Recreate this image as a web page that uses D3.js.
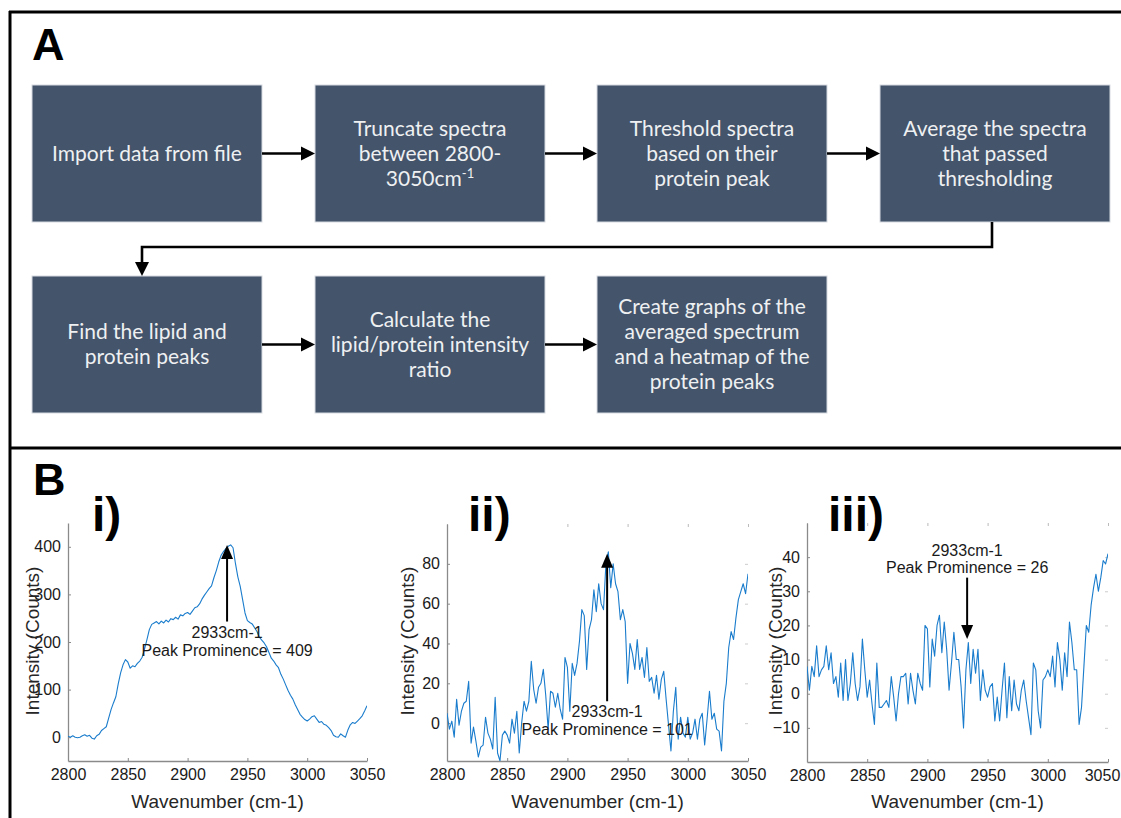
<!DOCTYPE html>
<html>
<head>
<meta charset="utf-8">
<script src="https://cdn.jsdelivr.net/npm/d3@7"></script>
<style>
body { margin: 0; background: #fff; }
svg { display: block; }
</style>
</head>
<body>
<svg id="fig" width="1121" height="818"></svg>
<script>
// ---- panel A: processing steps (text of each box, "^" marks a superscript)
var steps = [
  ["Import data from file"],
  ["Truncate spectra", "between 2800-", "3050cm^-1"],
  ["Threshold spectra", "based on their", "protein peak"],
  ["Average the spectra", "that passed", "thresholding"],
  ["Find the lipid and", "protein peaks"],
  ["Calculate the", "lipid/protein intensity", "ratio"],
  ["Create graphs of the", "averaged spectrum", "and a heatmap of the", "protein peaks"]
];

// ---- panel B: spectra, every 2 cm-1
var wavenumbers = [
  2800,2802,2804,2806,2808,2810,2812,2814,2816,2818,
  2820,2822,2824,2826,2828,2830,2832,2834,2836,2838,
  2840,2842,2844,2846,2848,2850,2852,2854,2856,2858,
  2860,2862,2864,2866,2868,2870,2872,2874,2876,2878,
  2880,2882,2884,2886,2888,2890,2892,2894,2896,2898,
  2900,2902,2904,2906,2908,2910,2912,2914,2916,2918,
  2920,2922,2924,2926,2928,2930,2932,2934,2936,2938,
  2940,2942,2944,2946,2948,2950,2952,2954,2956,2958,
  2960,2962,2964,2966,2968,2970,2972,2974,2976,2978,
  2980,2982,2984,2986,2988,2990,2992,2994,2996,2998,
  3000,3002,3004,3006,3008,3010,3012,3014,3016,3018,
  3020,3022,3024,3026,3028,3030,3032,3034,3036,3038,
  3040,3042,3044,3046,3048,3050
];

var spectrumI = [
  2,0,3,0,-1,0,3,5,2,4,
  -2,-4,3,6,14,18,22,40,58,72,
  85,112,135,152,163,158,145,150,148,155,
  160,168,185,205,226,237,240,243,238,244,
  240,246,242,249,247,252,248,257,255,260,
  262,258,265,272,274,280,290,298,305,312,
  318,335,350,368,382,390,396,401,404,398,
  365,337,317,289,261,245,241,238,230,222,
  210,204,198,190,178,166,160,152,146,132,
  122,110,98,88,80,68,58,48,42,37,
  34,38,43,45,38,31,33,27,25,20,
  14,4,1,0,7,3,0,15,26,31,
  29,34,39,45,55,66
];

var spectrumII = [
  5,-3,1,-7,12,-1,6,10,11,21,
  -10,-2,-9,-17,-12,-11,3,-5,-8,-13,
  13,-15,-19,-6,-4,-6,-10,2,-5,6,
  -15,0,11,6,11,31,17,10,18,20,
  27,14,-3,16,15,8,15,7,2,33,
  28,6,30,24,30,41,57,54,27,47,
  52,67,56,70,60,57,80,86,68,80,
  70,66,52,57,51,20,40,35,27,42,
  27,33,23,38,21,23,15,24,12,22,
  26,12,-1,-14,6,18,-8,3,-5,-7,
  3,-8,-5,2,-8,2,5,-11,2,16,
  2,5,-3,-4,-14,11,20,38,46,42,
  53,62,66,70,65,75
];

var spectrumIII = [
  8,1,8,5,14,5,7,8,14,7,
  12,3,5,-1,9,-2,10,-2,3,12,
  3,-2,2,16,7,-1,4,-3,-9,9,
  -4,-4,-3,-2,-4,5,-1,-8,0,5,
  5,6,-3,6,1,-3,6,3,1,20,
  19,2,16,11,20,23,12,21,13,1,
  9,18,10,10,2,-10,7,15,3,13,
  6,13,-2,7,1,-1,2,3,-8,-1,
  -8,1,9,-7,5,-5,4,-3,-5,1,
  4,-2,-7,-12,9,7,-5,-10,4,5,
  7,5,11,2,15,10,1,12,5,21,
  15,7,7,-9,-4,8,20,18,26,31,
  35,30,34,39,38,41
];

var spectra = [spectrumI, spectrumII, spectrumIII];
var panelNames = ["i)", "ii)", "iii)"];
var xDomain = [2800, 3050];
var xTickValues = [2800, 2850, 2900, 2950, 3000, 3050];
var yDomains = [[-50, 450], [-19, 100], [-20, 50]];
var yTickValues = [[0, 100, 200, 300, 400], [0, 20, 40, 60, 80], [-10, 0, 10, 20, 30, 40]];
var peakWavenumber = 2933;
var peakTips = [404, 85, 16];      // where the arrow points
var peakTails = [243, 11, 34];     // where the arrow starts
var prominences = [409, 101, 26];

var svg = d3.select("#fig");
var BOXFONT = "Lato, 'Open Sans', sans-serif";
var AXFONT = "'Liberation Sans', Arial, Helvetica, sans-serif";

// ---------- frame ----------
svg.append("line").attr("x1", 9).attr("x2", 1121).attr("y1", 12).attr("y2", 12)
  .attr("stroke", "#000").attr("stroke-width", 3);
svg.append("line").attr("x1", 10).attr("x2", 10).attr("y1", 11).attr("y2", 818)
  .attr("stroke", "#000").attr("stroke-width", 3);
svg.append("line").attr("x1", 9).attr("x2", 1121).attr("y1", 448).attr("y2", 448)
  .attr("stroke", "#000").attr("stroke-width", 3);

svg.append("text").attr("x", 32).attr("y", 60).text("A")
  .style("font-family", AXFONT).style("font-weight", "bold").style("font-size", "45px");
svg.append("text").attr("x", 33).attr("y", 495).text("B")
  .style("font-family", AXFONT).style("font-weight", "bold").style("font-size", "45px");

// ---------- panel A flowchart ----------
var colX = [32, 315, 597, 880], boxW = 230, boxH = 137, rowY = [85, 276];
var boxes = steps.map(function(lines, i) {
  var row = i < 4 ? 0 : 1, col = i < 4 ? i : i - 4;
  return {lines: lines, x: colX[col], y: rowY[row]};
});

function arrowHead(x, y, dir) {
  // dir: "right" or "down", tip at (x, y)
  var p = dir === "right"
    ? [[x, y], [x - 14, y - 7], [x - 14, y + 7]]
    : [[x, y], [x - 7, y - 14], [x + 7, y - 14]];
  svg.append("path").attr("d", "M" + p.join("L") + "Z").attr("fill", "#000");
}

svg.append("g").selectAll("rect").data(boxes).enter().append("rect")
  .attr("x", function(d) { return d.x; })
  .attr("y", function(d) { return d.y; })
  .attr("width", boxW).attr("height", boxH)
  .attr("fill", "#44546a")
  .attr("stroke", "#d5dae0").attr("stroke-width", 1);

boxes.forEach(function(d) {
  var lh = 25, n = d.lines.length;
  var cy = d.y + boxH / 2;
  d.lines.forEach(function(line, j) {
    var y = cy + (j - (n - 1) / 2) * lh + 7;
    var parts = line.split("^");
    var ln = svg.append("text").attr("x", d.x + boxW / 2).attr("y", y)
      .attr("text-anchor", "middle")
      .style("font-family", BOXFONT).style("font-size", "21px")
      .attr("fill", "#eef0f2");
    ln.append("tspan").text(parts[0]);
    if (parts[1]) ln.append("tspan").attr("dy", -8).style("font-size", "13px").text(parts[1]);
  });
});

// horizontal arrows inside each row
[[0, 1], [1, 2], [2, 3], [4, 5], [5, 6]].forEach(function(pr) {
  var a = boxes[pr[0]], b = boxes[pr[1]];
  var y = a.y + boxH / 2;
  svg.append("line").attr("x1", a.x + boxW).attr("x2", b.x - 10).attr("y1", y).attr("y2", y)
    .attr("stroke", "#000").attr("stroke-width", 2.6);
  arrowHead(b.x, y, "right");
});

// connector from step 4 down to step 5
var c4 = boxes[3], c5 = boxes[4];
var cx4 = 992, cx5 = 142, midY = 247;
svg.append("path")
  .attr("d", "M" + cx4 + "," + (c4.y + boxH) + "V" + midY + "H" + cx5 + "V" + (c5.y - 10))
  .attr("fill", "none").attr("stroke", "#000").attr("stroke-width", 2.6);
arrowHead(cx5, c5.y, "down");

// ---------- panel B spectra ----------
var plots = [
  {left: 68, right: 367, top: 523, bottom: 761, ylab: 32, numX: 92, faint: false},
  {left: 447, right: 748, top: 524, bottom: 761, ylab: 407, numX: 468, faint: true},
  {left: 807, right: 1108, top: 523, bottom: 762, ylab: 775, numX: 828, faint: true}
];

plots.forEach(function(p, k) {
  var x = d3.scaleLinear().domain(xDomain).range([p.left, p.right]);
  var y = d3.scaleLinear().domain(yDomains[k]).range([p.bottom, p.top]);
  var data = wavenumbers.map(function(w, i) { return {w: w, v: spectra[k][i]}; });

  var clipId = "clip" + k;
  svg.append("clipPath").attr("id", clipId).append("rect")
    .attr("x", p.left).attr("y", p.top).attr("width", p.right - p.left).attr("height", p.bottom - p.top);

  // faint box ticks on top/right
  if (p.faint) {
    svg.append("g").attr("transform", "translate(0," + p.top + ")")
      .call(d3.axisTop(x).tickValues(xTickValues).tickSize(-3).tickFormat(""))
      .call(function(s) { s.select(".domain").remove(); s.selectAll("line").attr("stroke", "#bbb"); });
    svg.append("g").attr("transform", "translate(" + p.right + ",0)")
      .call(d3.axisRight(y).tickValues(yTickValues[k]).tickSize(-3).tickFormat(""))
      .call(function(s) { s.select(".domain").remove(); s.selectAll("line").attr("stroke", "#ccc"); });
  }

  var xAxis = svg.append("g").attr("transform", "translate(0," + p.bottom + ")")
    .call(d3.axisBottom(x).tickValues(xTickValues).tickFormat(d3.format("d"))
      .tickSize(-3).tickSizeOuter(0).tickPadding(8));
  var yAxis = svg.append("g").attr("transform", "translate(" + p.left + ",0)")
    .call(d3.axisLeft(y).tickValues(yTickValues[k]).tickFormat(d3.format("d"))
      .tickSize(-3).tickSizeOuter(0).tickPadding(7));

  [xAxis, yAxis].forEach(function(ax) {
    ax.select(".domain").attr("stroke", "#8a8a8a").attr("stroke-width", 1.3);
    ax.selectAll(".tick line").attr("stroke", "#8a8a8a");
    ax.selectAll(".tick text").attr("fill", "#1a1a1a")
      .style("font-family", AXFONT).style("font-size", "16px");
  });
  // keep the last x label inside the page on the right-hand plot
  if (k === 2) {
    xAxis.selectAll(".tick text").filter(function(d) { return d === 3050; }).attr("dx", -6);
  }

  svg.append("path").datum(data)
    .attr("clip-path", "url(#" + clipId + ")")
    .attr("fill", "none").attr("stroke", "#1a7ccc").attr("stroke-width", 1.1)
    .attr("stroke-linejoin", "round")
    .attr("d", d3.line().x(function(d) { return x(d.w); }).y(function(d) { return y(d.v); }));

  // axis titles
  svg.append("text").attr("x", (p.left + p.right) / 2).attr("y", 808)
    .attr("text-anchor", "middle").attr("fill", "#262626")
    .style("font-family", AXFONT).style("font-size", "19px")
    .text("Wavenumber (cm-1)");
  svg.append("text")
    .attr("transform", "translate(" + (p.ylab + 7) + "," + 641 + ") rotate(-90)")
    .attr("text-anchor", "middle").attr("fill", "#262626")
    .style("font-family", AXFONT).style("font-size", "19px")
    .text("Intensity (Counts)");

  // panel numeral
  svg.append("text").attr("x", p.numX).attr("y", 531).text(panelNames[k])
    .style("font-family", AXFONT).style("font-weight", "bold").style("font-size", "48px");

  // peak arrow + label
  var ax = x(peakWavenumber), tipY = y(peakTips[k]), tailY = y(peakTails[k]);
  var down = tipY > tailY;
  svg.append("line").attr("x1", ax).attr("x2", ax)
    .attr("y1", tailY).attr("y2", down ? tipY - 12 : tipY + 12)
    .attr("stroke", "#000").attr("stroke-width", 2);
  var hp = down
    ? [[ax, tipY], [ax - 6, tipY - 14], [ax + 6, tipY - 14]]
    : [[ax, tipY], [ax - 6, tipY + 14], [ax + 6, tipY + 14]];
  svg.append("path").attr("d", "M" + hp.join("L") + "Z").attr("fill", "#000");

  var l1 = peakWavenumber + "cm-1", l2 = "Peak Prominence = " + prominences[k];
  var b1 = down ? tailY - 22 : tailY + 16, b2 = down ? tailY - 5 : tailY + 34;
  [[l1, b1], [l2, b2]].forEach(function(t) {
    svg.append("text").attr("x", ax).attr("y", t[1]).attr("text-anchor", "middle")
      .attr("fill", "#1a1a1a").style("font-family", AXFONT).style("font-size", "16px")
      .text(t[0]);
  });
});
</script>
</body>
</html>
